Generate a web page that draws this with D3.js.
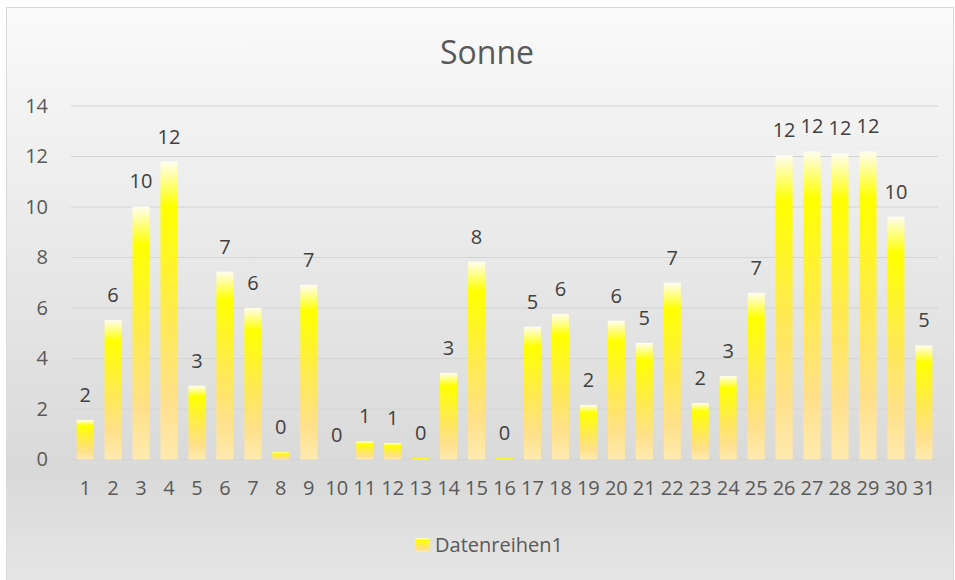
<!DOCTYPE html>
<html>
<head>
<meta charset="utf-8">
<script src="https://d3js.org/d3.v7.min.js"></script>
<style>
  body { margin: 0; background: #fff; }
  text { font-family: "Open Sans", sans-serif; fill: #595959; }
</style>
</head>
<body>
<svg id="chart" width="955" height="580"></svg>
<script>
// days of the month
var days = d3.range(1, 32).map(String);
// hours of sunshine
var sonne = [1.57, 5.52, 10.02, 11.8, 2.92, 7.44, 6.01, 0.3, 6.92, 0,
             0.72, 0.65, 0.06, 3.43, 7.84, 0.05, 5.26, 5.77, 2.16, 5.5,
             4.62, 7.0, 2.24, 3.31, 6.6, 12.04, 12.2, 12.12, 12.2, 9.62, 4.52];
var yTicks = [0, 2, 4, 6, 8, 10, 12, 14];
var seriesName = "Datenreihen1";

var svg = d3.select("#chart");
var defs = svg.append("defs");

// chart area background
var bg = defs.append("linearGradient").attr("id", "bg")
  .attr("x1", 0).attr("y1", 0).attr("x2", 0).attr("y2", 1);
bg.append("stop").attr("offset", "0%").attr("stop-color", "#fafafa");
bg.append("stop").attr("offset", "80%").attr("stop-color", "#d9d9d9");
bg.append("stop").attr("offset", "100%").attr("stop-color", "#e6e6e6");

// bar fill: white top, yellow, pale orange bottom
var bar = defs.append("linearGradient").attr("id", "bar")
  .attr("x1", 0).attr("y1", 0).attr("x2", 0).attr("y2", 1);
bar.append("stop").attr("offset", "0%").attr("stop-color", "#fffdf0");
bar.append("stop").attr("offset", "15%").attr("stop-color", "#ffff00");
bar.append("stop").attr("offset", "50%").attr("stop-color", "#ffeb4d");
bar.append("stop").attr("offset", "80%").attr("stop-color", "#ffe08a");
bar.append("stop").attr("offset", "100%").attr("stop-color", "#ffeab0");

svg.append("rect")
  .attr("x", 6.5).attr("y", 7.5).attr("width", 947).attr("height", 580)
  .attr("fill", "url(#bg)").attr("stroke", "#d9d9d9");

var x = d3.scaleBand().domain(days).range([71, 938]).paddingInner(0.39).paddingOuter(0.2);
var y = d3.scaleLinear().domain([0, 14]).range([459.5, 106]);

// gridlines
svg.append("g").selectAll("line").data(yTicks).enter().append("line")
  .attr("x1", 71).attr("x2", 938)
  .attr("y1", function(d){ return y(d) }).attr("y2", function(d){ return y(d) })
  .attr("stroke", "#d4d4d4").attr("stroke-width", 1);

// y axis labels
var yAxis = svg.append("g")
  .attr("transform", "translate(48,0)")
  .call(d3.axisLeft(y).tickValues(yTicks).tickSize(0).tickPadding(0));
yAxis.select(".domain").remove();
yAxis.selectAll("text").style("font-size", "20px").attr("fill", "#595959")
  .style("font-family", "Open Sans");

// x axis labels
var xAxis = svg.append("g")
  .attr("transform", "translate(0,481)")
  .call(d3.axisBottom(x).tickSize(0).tickPadding(0));
xAxis.select(".domain").remove();
xAxis.selectAll("text").style("font-size", "20px").attr("fill", "#595959")
  .style("font-family", "Open Sans");

// bars
svg.append("g").selectAll("rect").data(sonne).enter().append("rect")
  .attr("x", function(d, i){ return x(days[i]) })
  .attr("y", function(d){ return y(d) })
  .attr("width", x.bandwidth())
  .attr("height", function(d){ return y(0) - y(d) })
  .attr("fill", "url(#bar)");

// data labels
svg.append("g").selectAll("text").data(sonne).enter().append("text")
  .attr("x", function(d, i){ return x(days[i]) + x.bandwidth() / 2 })
  .attr("y", function(d){ return y(d) - 18 })
  .attr("text-anchor", "middle")
  .style("font-size", "20px")
  .style("fill", "#404040")
  .text(function(d){ return Math.round(d) });

// title
svg.append("text")
  .attr("x", 487).attr("y", 64)
  .attr("text-anchor", "middle")
  .style("font-size", "32px")
  .text("Sonne");

// legend
svg.append("rect")
  .attr("x", 415).attr("y", 538).attr("width", 14).attr("height", 14)
  .attr("fill", "url(#bar)");
svg.append("text")
  .attr("x", 435).attr("y", 552)
  .style("font-size", "20px")
  .text(seriesName);
</script>
</body>
</html>
